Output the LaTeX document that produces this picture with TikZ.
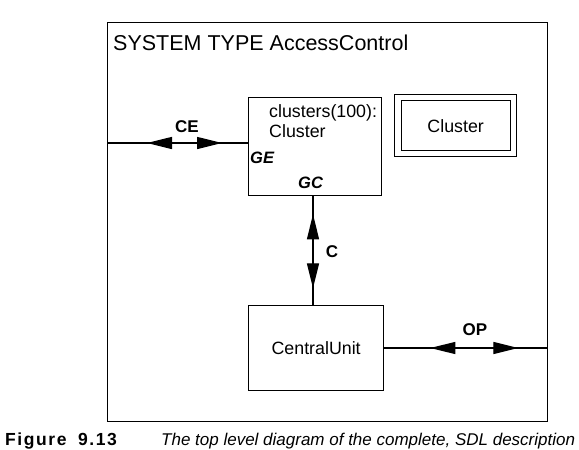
\documentclass[tikz,border=0pt]{standalone}
\usepackage{fontspec}
\setmainfont{Liberation Sans}
\usetikzlibrary{arrows.meta,decorations.markings}
\begin{document}
\begin{tikzpicture}[x=1pt,y=-1pt,
  >={Triangle[length=25pt,width=12pt]},
  box/.style={draw,line width=1.3pt,rectangle,inner sep=0pt},
  chan/.style={line width=1.3pt},
  lab/.style={font=\fontsize{17}{19}\selectfont\bfseries,inner sep=0pt},
  gate/.style={font=\fontsize{16.5}{18}\selectfont\bfseries\itshape,inner sep=0pt,anchor=base west},
  txt/.style={font=\fontsize{17.8}{20}\selectfont,inner sep=0pt}]
\useasboundingbox (0,0) rectangle (579,450);
% frame
\node[box,anchor=north west,minimum width=440pt,minimum height=399pt] (frame) at (107,22) {};
\node[anchor=base west,inner sep=0pt,font=\fontsize{21.5}{24}\selectfont] (title) at (113,50) {SYSTEM TYPE AccessControl};
% clusters block set
\node[box,anchor=north west,minimum width=133pt,minimum height=98pt] (cl) at (248,97) {};
\node[txt,anchor=base west] (cl1) at (269,117) {clusters(100):};
\node[txt,anchor=base west] (cl2) at (269,137) {Cluster};
\node[gate] (ge) at (250,163) {GE};
\node[gate] (gc) at (298,188) {GC};
% type reference
\node[box,anchor=north west,minimum width=122pt,minimum height=62pt] (typeo) at (394,94) {};
\node[box,minimum width=109pt,minimum height=50pt,font=\fontsize{17.8}{20}\selectfont] (typei) at (typeo.center) {Cluster};
% central unit
\node[box,anchor=north west,minimum width=135pt,minimum height=85pt,font=\fontsize{17.8}{20}\selectfont] (cu) at (248,305) {CentralUnit};
% channel endpoints
\coordinate (ceL) at (frame.west |- 0,143);
\coordinate (ceR) at (cl.west |- 0,143);
\coordinate (cT) at (313,0 |- cl.south);
\coordinate (cB) at (313,0 |- cu.north);
\coordinate (opL) at (cu.east |- 0,348);
\coordinate (opR) at (frame.east |- 0,348);
% channels
\draw[chan,postaction={decorate,decoration={markings,
   mark=at position 40pt with {\arrowreversed{>}},
   mark=at position 115pt with {\arrow{>}}}}] (ceL) -- (ceR);
\draw[chan,postaction={decorate,decoration={markings,
   mark=at position 18pt with {\arrowreversed{>}},
   mark=at position 92pt with {\arrow{>}}}}] (cT) -- (cB);
\draw[chan,postaction={decorate,decoration={markings,
   mark=at position 46pt with {\arrowreversed{>}},
   mark=at position 134pt with {\arrow{>}}}}] (opL) -- (opR);
\node[lab] (ce) at (187,127) {CE};
\node[lab] (c) at (332,252) {C};
\node[lab] (op) at (475,330) {OP};
% caption
\node[anchor=base west,inner sep=0pt,font=\fontsize{17.5}{20}\selectfont\bfseries\addfontfeatures{LetterSpace=9}] (fig) at (5,445) {Figure};
\node[anchor=base west,inner sep=0pt,font=\fontsize{17.5}{20}\selectfont\bfseries\addfontfeatures{LetterSpace=9}] (num) at (78,445) {9.13};
\node[anchor=base west,inner sep=0pt,font=\fontsize{17}{20}\selectfont\itshape] (captxt) at (161,445) {The top level diagram of the complete, SDL description};
\end{tikzpicture}
\end{document}
